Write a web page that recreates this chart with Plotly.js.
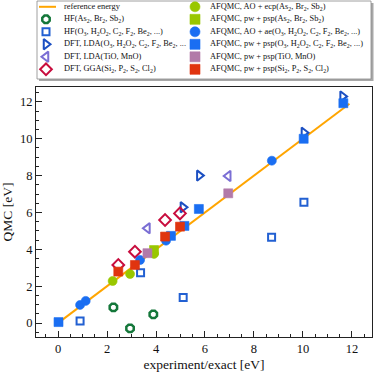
<!DOCTYPE html>
<html>
<head>
<meta charset="utf-8">
<script src="https://cdn.plot.ly/plotly-3.0.1.min.js"></script>
<style>body{margin:0;background:#fff;} #chart{width:374px;height:372px;}</style>
</head>
<body>
<div id="chart"></div>
<script>
// reference energy line (y = x)
const refX = [0.05, 11.9];

// HF
const hfAsX = [2.26, 2.94, 3.89];
const hfAsY = [0.85, -0.29, 0.47];
const hfOX = [0.9, 3.37, 5.11, 8.72, 10.04];
const hfOY = [0.11, 2.73, 1.38, 4.66, 6.55];

// DFT
const ldaOX = [5.1, 5.77, 10.04, 11.62];
const ldaOY = [6.28, 8.0, 10.33, 12.3];
const ldaTmX = [3.65, 6.95];
const ldaTmY = [5.14, 7.98];
const ggaX = [2.46, 3.14, 4.37, 4.98];
const ggaY = [3.15, 3.87, 5.59, 5.95];

// AFQMC
const aoEcpX = [2.23, 2.94, 3.92];
const aoEcpY = [2.28, 2.66, 3.75];
const pwAsX = [3.92];
const pwAsY = [3.96];
const aoAeX = [0.9, 1.13, 3.35, 4.41, 8.73];
const aoAeY = [0.98, 1.2, 3.42, 4.47, 8.81];
const pwOX = [0.02, 4.61, 5.16, 5.75, 10.03, 11.65];
const pwOY = [0.05, 4.73, 5.27, 6.19, 10.0, 11.93];
const pwTmX = [3.65, 6.95];
const pwTmY = [3.79, 7.04];
const pwSiX = [2.46, 3.14, 4.37, 4.98];
const pwSiY = [2.79, 3.15, 4.69, 5.23];

const xTicks = [0, 2, 4, 6, 8, 10, 12];
const yTicks = [0, 2, 4, 6, 8, 10, 12];

const FONT = 'Liberation Serif, DejaVu Serif, serif';

const series = [
    {name: 'HF(As<sub>2</sub>, Br<sub>2</sub>, Sb<sub>2</sub>)', x: hfAsX, y: hfAsY,
     symbol: 'octagon-open', color: '#14773a', size: 8, lw: 2.5, col: 0, row: 1},
    {name: 'HF(O<sub>3</sub>, H<sub>2</sub>O<sub>2</sub>, C<sub>2</sub>, F<sub>2</sub>, Be<sub>2</sub>, ...)', x: hfOX, y: hfOY,
     symbol: 'square-open', color: '#2260d2', size: 7, lw: 2, col: 0, row: 2},
    {name: 'DFT, LDA(O<sub>3</sub>, H<sub>2</sub>O<sub>2</sub>, C<sub>2</sub>, F<sub>2</sub>, Be<sub>2</sub>, ...', x: ldaOX, y: ldaOY,
     symbol: 'triangle-right-open', color: '#1b4fc2', size: 9, lw: 2, col: 0, row: 3},
    {name: 'DFT, LDA(TiO, MnO)', x: ldaTmX, y: ldaTmY,
     symbol: 'triangle-left-open', color: '#7a6ed4', size: 9, lw: 2, col: 0, row: 4},
    {name: 'DFT, GGA(Si<sub>2</sub>, P<sub>2</sub>, S<sub>2</sub>, Cl<sub>2</sub>)', x: ggaX, y: ggaY,
     symbol: 'diamond-open', color: '#c80d3e', size: 9, lw: 2, col: 0, row: 5},
    {name: 'AFQMC, AO + ecp(As<sub>2</sub>, Br<sub>2</sub>, Sb<sub>2</sub>)', x: aoEcpX, y: aoEcpY,
     symbol: 'circle', color: '#99c700', size: 9, lw: 0.6, col: 1, row: 0},
    {name: 'AFQMC, pw + psp(As<sub>2</sub>, Br<sub>2</sub>, Sb<sub>2</sub>)', x: pwAsX, y: pwAsY,
     symbol: 'square', color: '#99c700', size: 9, lw: 0.6, col: 1, row: 1},
    {name: 'AFQMC, AO + ae(O<sub>3</sub>, H<sub>2</sub>O<sub>2</sub>, C<sub>2</sub>, F<sub>2</sub>, Be<sub>2</sub>, ...)', x: aoAeX, y: aoAeY,
     symbol: 'circle', color: '#1a6ef2', size: 9, lw: 0.6, col: 1, row: 2},
    {name: 'AFQMC, pw + psp(O<sub>3</sub>, H<sub>2</sub>O<sub>2</sub>, C<sub>2</sub>, F<sub>2</sub>, Be<sub>2</sub>, ...)', x: pwOX, y: pwOY,
     symbol: 'square', color: '#1a6ef2', size: 9, lw: 0.6, col: 1, row: 3},
    {name: 'AFQMC, pw + psp(TiO, MnO)', x: pwTmX, y: pwTmY,
     symbol: 'square', color: '#b27aa9', size: 9, lw: 0.6, col: 1, row: 4},
    {name: 'AFQMC, pw + psp(Si<sub>2</sub>, P<sub>2</sub>, S<sub>2</sub>, Cl<sub>2</sub>)', x: pwSiX, y: pwSiY,
     symbol: 'square', color: '#e0340f', size: 9, lw: 0.6, col: 1, row: 5}
];

// legend placement, in figure pixels
const legMarkX = [46, 195];
const legTextX = [62, 208];
const legRowY = r => 6.8 + 12.5 * r;
const legFont = {family: FONT, size: 8.4, color: '#111'};

const traces = [{
    x: refX, y: refX, mode: 'lines', name: 'reference energy',
    line: {color: '#ffa500', width: 2}, showlegend: false, hoverinfo: 'skip'
}];
series.forEach(s => {
    traces.push({
        x: s.x, y: s.y, mode: 'markers', name: s.name, showlegend: false,
        marker: {symbol: s.symbol, size: s.size, color: s.color,
                 line: {color: s.color, width: s.lw}}
    });
});

// hand-made legend on a full-figure overlay axis pair
traces.push({
    x: [39, 56], y: [legRowY(0), legRowY(0)], xaxis: 'x2', yaxis: 'y2',
    mode: 'lines', line: {color: '#ffa500', width: 2}, showlegend: false, hoverinfo: 'skip'
});
const annotations = [{
    x: legTextX[0], y: legRowY(0), xref: 'x2', yref: 'y2', text: 'reference energy',
    xanchor: 'left', yanchor: 'middle', showarrow: false, font: legFont
}];
series.forEach(s => {
    traces.push({
        x: [legMarkX[s.col]], y: [legRowY(s.row)], xaxis: 'x2', yaxis: 'y2',
        mode: 'markers', showlegend: false, hoverinfo: 'skip', cliponaxis: false,
        marker: {symbol: s.symbol, size: s.size + (s.col ? 1 : 0), color: s.color,
                 line: {color: s.color, width: s.lw}}
    });
    annotations.push({
        x: legTextX[s.col], y: legRowY(s.row), xref: 'x2', yref: 'y2', text: s.name,
        xanchor: 'left', yanchor: 'middle', showarrow: false, font: legFont
    });
});

const axisStyle = {
    showline: true, mirror: true, linecolor: '#222', linewidth: 1,
    showgrid: false, zeroline: false,
    ticks: 'inside', ticklen: 6, tickwidth: 1, tickcolor: '#222',
    minor: {dtick: 0.5, ticks: 'inside', ticklen: 3, tickcolor: '#222'},
    tickfont: {family: FONT, size: 12.5, color: '#111'}
};

const layout = {
    width: 374, height: 372,
    margin: {l: 0, r: 0, t: 0, b: 0},
    paper_bgcolor: '#fff', plot_bgcolor: 'rgba(0,0,0,0)',
    showlegend: false,
    xaxis: Object.assign({}, axisStyle, {
        domain: [36 / 374, 372 / 374], range: [-0.9, 12.82],
        tickvals: xTicks, anchor: 'y',
        title: {text: 'experiment/exact [eV]', font: {family: FONT, size: 13.5, color: '#111'}, standoff: 6}
    }),
    yaxis: Object.assign({}, axisStyle, {
        domain: [35 / 372, 285 / 372], range: [-0.76, 12.81],
        tickvals: yTicks, anchor: 'x',
        title: {text: 'QMC [eV]', font: {family: FONT, size: 13.5, color: '#111'}, standoff: 6}
    }),
    xaxis2: {domain: [0, 1], range: [0, 374], visible: false, anchor: 'y2', fixedrange: true},
    yaxis2: {domain: [0, 1], range: [372, 0], visible: false, anchor: 'x2', fixedrange: true},
    shapes: [
        {type: 'rect', xref: 'x2', yref: 'y2', x0: 39, y0: 3, x1: 373.5, y1: 81,
         fillcolor: '#a8a8a8', line: {width: 0}, layer: 'below'},
        {type: 'rect', xref: 'x2', yref: 'y2', x0: 37, y0: 1, x1: 371, y1: 79,
         fillcolor: '#fff', line: {color: '#888', width: 0.8}, layer: 'below'}
    ],
    annotations: annotations
};

Plotly.newPlot('chart', traces, layout, {displayModeBar: false, staticPlot: true});
</script>
</body>
</html>
